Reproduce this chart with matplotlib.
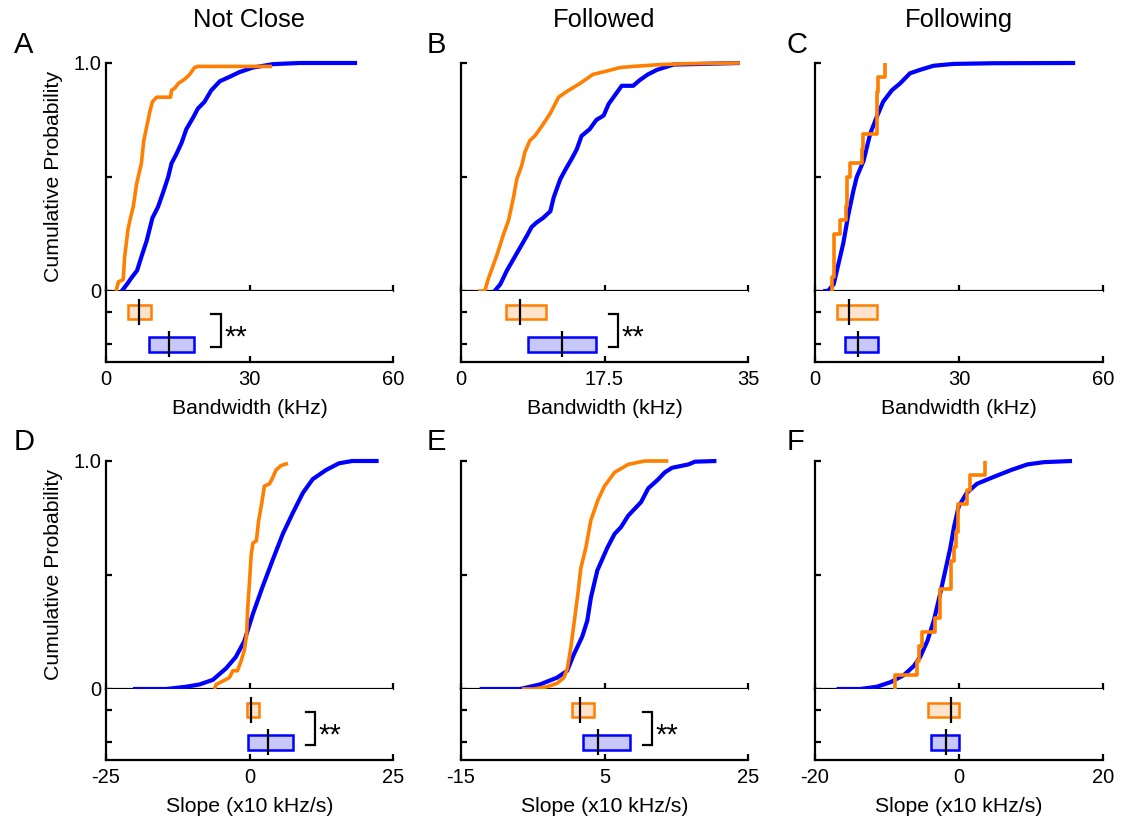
import matplotlib
import matplotlib.pyplot as plt

matplotlib.rcParams.update({'font.family': ['Liberation Sans', 'DejaVu Sans'],
                            'font.size': 14})

ORANGE = '#ff7f00'
BLUE = '#0000ff'

# ---- A: bandwidth, not close ----
a_or_x = [2.1, 2.6, 3.6, 3.9, 4.6, 5.0, 5.7, 6.4, 7.4, 7.9, 8.5, 9.2, 9.7, 10.6,
          13.5, 13.7, 14.4, 15.1, 16.5, 17.5, 18.5, 19.2, 34.7]
a_or_p = [0.0, 0.04, 0.05, 0.15, 0.27, 0.31, 0.37, 0.47, 0.56, 0.66, 0.72, 0.79,
          0.83, 0.85, 0.85, 0.88, 0.89, 0.91, 0.93, 0.95, 0.98, 0.985, 0.985]
a_bl_x = [3.3, 4.4, 5.4, 6.5, 7.4, 8.5, 9.7, 10.9, 11.9, 13.0, 13.7, 14.7, 15.8,
          16.8, 18.2, 19.2, 20.6, 22.0, 23.8, 25.9, 27.9, 30.7, 34.9, 40.4, 52.5]
a_bl_p = [0.0, 0.03, 0.06, 0.09, 0.15, 0.22, 0.32, 0.37, 0.43, 0.50, 0.56, 0.60,
          0.65, 0.71, 0.76, 0.80, 0.83, 0.88, 0.92, 0.94, 0.96, 0.98, 0.995, 1.0, 1.0]
a_box_or = (4.6, 6.9, 9.4)
a_box_bl = (9.0, 13.2, 18.4)

# ---- B: bandwidth, followed ----
b_or_x = [2.1, 2.9, 3.3, 4.4, 5.2, 5.8, 6.4, 6.8, 7.4, 7.8, 8.4, 9.0, 9.8, 10.9,
          11.9, 12.9, 14.5, 16.1, 17.8, 19.4, 21.0, 24.3, 27.5, 34.0]
b_or_p = [0.0, 0.0, 0.05, 0.16, 0.25, 0.31, 0.41, 0.49, 0.55, 0.61, 0.66, 0.68,
          0.72, 0.78, 0.85, 0.875, 0.91, 0.95, 0.965, 0.98, 0.985, 0.993, 0.997, 1.0]
b_bl_x = [4.1, 4.8, 5.6, 6.4, 7.2, 8.0, 8.6, 9.2, 10.0, 10.9, 11.3, 12.1, 12.7,
          13.5, 14.1, 14.7, 15.7, 16.5, 17.4, 18.0, 18.8, 19.6, 21.0, 21.8, 22.8,
          23.9, 25.9, 34.0]
b_bl_p = [0.0, 0.03, 0.09, 0.14, 0.19, 0.24, 0.28, 0.30, 0.32, 0.35, 0.41, 0.49,
          0.53, 0.58, 0.62, 0.68, 0.71, 0.75, 0.77, 0.82, 0.86, 0.90, 0.90, 0.925,
          0.95, 0.97, 0.993, 1.0]
b_box_or = (5.5, 7.2, 10.4)
b_box_bl = (8.2, 12.3, 16.5)

# ---- C: bandwidth, following (orange is a small-n step CDF) ----
c_or_x = [3.5, 3.5, 3.95, 5.2, 6.5, 6.75, 7.3, 9.7, 10.07, 12.85, 13.2, 14.6]
c_or_p = [0.0, 0.0625, 0.25, 0.3125, 0.375, 0.5, 0.5625, 0.625, 0.6875, 0.875,
          0.9375, 1.0]
c_bl_x = [1.7, 2.7, 3.9, 4.9, 5.9, 6.9, 8.0, 8.7, 10.1, 11.5, 12.8, 14.2, 16.0,
          17.7, 19.8, 21.9, 24.7, 28.9, 37.2, 54.2]
c_bl_p = [0.0, 0.0, 0.03, 0.12, 0.21, 0.33, 0.44, 0.50, 0.57, 0.69, 0.76, 0.83,
          0.88, 0.91, 0.955, 0.97, 0.988, 0.996, 0.999, 1.0]
c_box_or = (4.6, 7.1, 12.9)
c_box_bl = (6.3, 9.0, 13.1)

# ---- D: slope, not close ----
d_or_x = [-6.1, -5.8, -5.0, -3.5, -2.9, -2.1, -1.5, -0.9, -0.5, -0.3, 0.0, 0.3,
          0.6, 1.2, 1.6, 2.1, 2.6, 3.5, 4.1, 4.6, 5.5, 6.7]
d_or_p = [0.0, 0.02, 0.03, 0.05, 0.08, 0.08, 0.12, 0.17, 0.24, 0.36, 0.47, 0.59,
          0.64, 0.65, 0.74, 0.81, 0.89, 0.90, 0.93, 0.96, 0.98, 0.99]
d_bl_x = [-20.3, -14.5, -11.0, -8.7, -6.4, -4.1, -2.4, -0.9, 0.6, 2.3, 4.1, 5.8,
          7.5, 9.3, 11.0, 13.3, 15.6, 17.9, 22.5]
d_bl_p = [0.0, 0.0, 0.01, 0.02, 0.04, 0.09, 0.14, 0.21, 0.33, 0.45, 0.57, 0.68,
          0.77, 0.86, 0.92, 0.96, 0.99, 1.0, 1.0]
d_box_or = (-0.5, 0.3, 1.7)
d_box_bl = (-0.3, 3.3, 7.5)

# ---- E: slope, followed ----
e_or_x = [-6.5, -4.85, -3.0, -1.6, -0.65, -0.18, 0.3, 0.8, 1.3, 1.7, 2.4, 3.1,
          4.1, 5.0, 6.4, 8.3, 10.6, 13.9]
e_or_p = [0.0, 0.0, 0.01, 0.025, 0.05, 0.09, 0.18, 0.30, 0.42, 0.53, 0.62, 0.74,
          0.83, 0.89, 0.95, 0.985, 1.0, 1.0]
e_bl_x = [-12.4, -6.8, -4.0, -1.6, -0.2, 0.7, 1.9, 2.6, 3.1, 4.0, 4.7, 5.4, 6.4,
          7.3, 8.3, 9.2, 10.1, 11.1, 12.5, 13.4, 14.4, 16.7, 17.6, 20.6]
e_bl_p = [0.0, 0.0, 0.02, 0.05, 0.08, 0.15, 0.23, 0.30, 0.40, 0.52, 0.57, 0.62,
          0.68, 0.71, 0.76, 0.79, 0.82, 0.88, 0.92, 0.95, 0.97, 0.985, 0.997, 1.0]
e_box_or = (0.46, 1.6, 3.5)
e_box_bl = (2.0, 4.1, 8.5)

# ---- F: slope, following ----
f_or_x = [-8.9, -8.9, -5.9, -5.6, -5.1, -3.3, -2.7, -1.1, -0.7, -0.4, -0.1, 1.07,
          1.5, 3.6]
f_or_p = [0.0, 0.0625, 0.125, 0.1875, 0.25, 0.3125, 0.4375, 0.5625, 0.625, 0.6875,
          0.8125, 0.875, 0.9375, 1.0]
f_bl_x = [-17.0, -13.7, -11.4, -9.5, -7.7, -6.3, -5.4, -4.4, -3.5, -2.6, -1.9,
          -1.2, -0.7, -0.05, 1.07, 2.5, 4.8, 7.2, 9.5, 11.8, 15.7]
f_bl_p = [0.0, 0.0, 0.01, 0.03, 0.06, 0.10, 0.14, 0.21, 0.30, 0.42, 0.52, 0.62,
          0.71, 0.80, 0.86, 0.90, 0.93, 0.96, 0.985, 0.995, 1.0]
f_box_or = (-4.3, -1.1, 0.0)
f_box_bl = (-3.9, -1.8, 0.0)

col_titles = ['Not Close', 'Followed', 'Following']
bw_label = 'Bandwidth (kHz)'
slope_label = 'Slope (x10 kHz/s)'

panels = [
    dict(letter='A', col=0, row=0, xlim=(0, 60), xticks=[0, 30, 60], xticklabels=['0', '30', '60'],
         orange=(a_or_x, a_or_p, 'default'), blue=(a_bl_x, a_bl_p), boxes=(a_box_or, a_box_bl),
         bracket=(22.0, 24.1), xlabel=bw_label),
    dict(letter='B', col=1, row=0, xlim=(0, 35), xticks=[0, 17.5, 35], xticklabels=['0', '17.5', '35'],
         orange=(b_or_x, b_or_p, 'default'), blue=(b_bl_x, b_bl_p), boxes=(b_box_or, b_box_bl),
         bracket=(18.0, 19.1), xlabel=bw_label),
    dict(letter='C', col=2, row=0, xlim=(0, 60), xticks=[0, 30, 60], xticklabels=['0', '30', '60'],
         orange=(c_or_x, c_or_p, 'steps-post'), blue=(c_bl_x, c_bl_p), boxes=(c_box_or, c_box_bl),
         bracket=None, xlabel=bw_label),
    dict(letter='D', col=0, row=1, xlim=(-25, 25), xticks=[-25, 0, 25], xticklabels=['-25', '0', '25'],
         orange=(d_or_x, d_or_p, 'default'), blue=(d_bl_x, d_bl_p), boxes=(d_box_or, d_box_bl),
         bracket=(9.9, 11.4), xlabel=slope_label),
    dict(letter='E', col=1, row=1, xlim=(-15, 25), xticks=[-15, 5, 25], xticklabels=['-15', '5', '25'],
         orange=(e_or_x, e_or_p, 'default'), blue=(e_bl_x, e_bl_p), boxes=(e_box_or, e_box_bl),
         bracket=(10.3, 11.6), xlabel=slope_label),
    dict(letter='F', col=2, row=1, xlim=(-20, 20), xticks=[-20, 0, 20], xticklabels=['-20', '0', '20'],
         orange=(f_or_x, f_or_p, 'steps-post'), blue=(f_bl_x, f_bl_p), boxes=(f_box_or, f_box_bl),
         bracket=None, xlabel=slope_label),
]

W, H = 1140, 816
fig = plt.figure(figsize=(W / 100, H / 100), dpi=100)

col_left = [106, 461, 815]
col_width = [287, 287, 288]
letter_x = [14, 427, 787]
row_top = [63, 461]      # pixel y of p = 1.0
letter_y = [45, 442]
cdf_h = 228
box_h = 71


def px_axes(x0, y0, w, h):
    return fig.add_axes([x0 / W, 1 - (y0 + h) / H, w / W, h / H])


def style(ax):
    for s in ['top', 'right']:
        ax.spines[s].set_visible(False)
    for s in ['left', 'bottom']:
        ax.spines[s].set_linewidth(1.6)
    ax.tick_params(direction='in', length=4, width=1.6, labelsize=14.5)


for pn in panels:
    x0 = col_left[pn['col']]
    w = col_width[pn['col']]
    y0 = row_top[pn['row']]

    # cumulative distributions
    ax = px_axes(x0, y0, w, cdf_h)
    style(ax)
    bx, bp = pn['blue']
    ox, op, ds = pn['orange']
    ax.plot(bx, bp, color=BLUE, lw=3.0, solid_capstyle='butt', clip_on=False, zorder=3)
    ax.plot(ox, op, color=ORANGE, lw=2.6, drawstyle=ds, solid_capstyle='butt',
            clip_on=False, zorder=4)
    ax.set_xlim(pn['xlim'])
    ax.set_ylim(0, 1)
    ax.set_xticks(pn['xticks'])
    ax.set_xticklabels([])
    ax.set_yticks([0, 0.5, 1.0])
    if pn['col'] == 0:
        ax.set_yticklabels(['0', '', '1.0'])
        ax.set_ylabel('Cumulative Probability', fontsize=15.3)
        ax.yaxis.set_label_coords(-0.15, 0.5)
    else:
        ax.set_yticklabels([])

    # interquartile boxes with medians
    bxa = px_axes(x0, y0 + cdf_h, w, box_h)
    style(bxa)
    bxa.set_xlim(pn['xlim'])
    bxa.set_ylim(0.45, 2.65)
    rows = [2, 1]
    faces = ['#ffe3cc', '#c8c8f8']
    edges = [ORANGE, BLUE]
    for (q1, med, q3), r, fc, ec in zip(pn['boxes'], rows, faces, edges):
        bxa.barh(r, q3 - q1, left=q1, height=0.46, color=fc, edgecolor=ec, linewidth=1.8)
        bxa.vlines(med, r - 0.4, r + 0.4, color='black', lw=1.6)
    if pn['bracket'] is not None:
        b0, b1 = pn['bracket']
        bxa.plot([b0, b1, b1, b0], [1.93, 1.93, 0.9, 0.9], color='black', lw=1.6,
                 solid_joinstyle='miter')
        bxa.text(b1 + (pn['xlim'][1] - pn['xlim'][0]) * 0.012, 1.2, '**',
                 fontsize=21, ha='left', va='center')
    bxa.set_xticks(pn['xticks'])
    bxa.set_xticklabels(pn['xticklabels'])
    bxa.tick_params(axis='x', pad=6)
    bxa.set_yticks(rows)
    bxa.set_yticklabels([])
    bxa.set_xlabel(pn['xlabel'], fontsize=15.3, labelpad=7)

    fig.text(letter_x[pn['col']] / W, 1 - letter_y[pn['row']] / H, pn['letter'],
             fontsize=21, ha='left', va='center')

for c, t in enumerate(col_titles):
    fig.text((col_left[c] + col_width[c] / 2) / W, 1 - 20 / H, t, fontsize=18.4,
             ha='center', va='center')

fig.savefig('out.png', dpi=100)
